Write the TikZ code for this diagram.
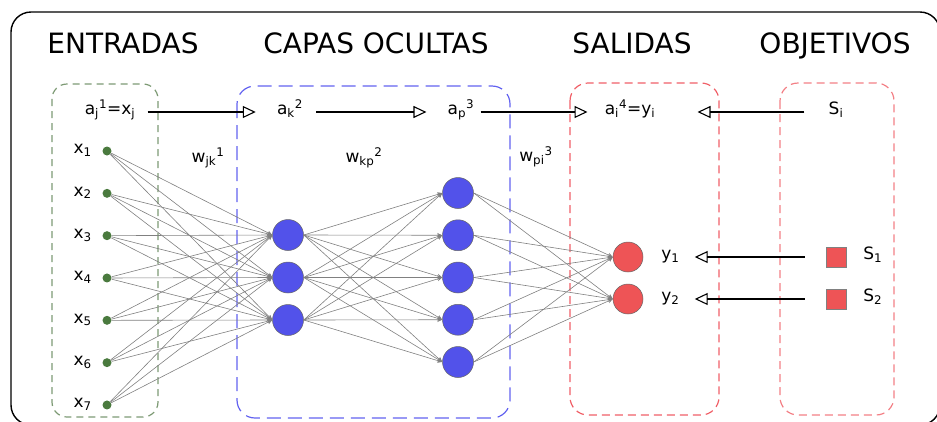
\documentclass[tikz,border=0pt]{standalone}
\usepackage{fontspec}
\setmainfont{DejaVu Sans}
\usepackage{tikz}
\usetikzlibrary{arrows.meta}
\usetikzlibrary{positioning}

\definecolor{verdeo}{RGB}{74,122,62}
\definecolor{verdec}{RGB}{125,154,116}
\definecolor{azul}{RGB}{82,82,234}
\definecolor{azulc}{RGB}{98,98,240}
\definecolor{rojo}{RGB}{238,84,86}
\definecolor{rojoc}{RGB}{240,96,104}

\begin{document}
\begin{tikzpicture}[x=1pt,y=-1pt,>={Stealth[length=5pt,width=4.5pt]},semithick]
            % estilos
            \tikzstyle{every node}=[font=\fontsize{17}{20}\selectfont,inner sep=0pt]
            \tikzstyle{titulo}=[font=\fontsize{28}{32}\selectfont,anchor=base]
            \tikzstyle{etiqueta}=[anchor=mid]
            \tikzstyle{entrada}=[circle,fill=verdeo,minimum size=9pt]
            \tikzstyle{oculta}=[circle,fill=azul,draw=black!60,line width=0.5pt,minimum size=31pt]
            \tikzstyle{salida}=[circle,fill=rojo,draw=black!60,line width=0.5pt,minimum size=30pt]
            \tikzstyle{objetivo}=[rectangle,fill=rojo,draw=black!50,line width=0.5pt,minimum size=20pt]
            \tikzstyle{conexion}=[->,draw=black!50,line width=0.6pt]
            \tikzstyle{flecha}=[-{Triangle[open,length=13pt,width=12pt]},line width=1.1pt]
            \tikzstyle{caja}=[dashed,line width=1.2pt]

            % marco
            \useasboundingbox (0,0) rectangle (937,421);
            \clip (0,0) rectangle (937,421);
            \draw[line width=1.4pt,rounded corners=20pt] (11,12) rectangle (940,425);

            % cajas de cada capa
            \draw[caja,verdec,rounded corners=15pt,dash pattern=on 7pt off 5pt] (52,84) rectangle (158,417);
            \draw[caja,azulc,rounded corners=18pt,dash pattern=on 14pt off 7pt] (237,86) rectangle (510,418);
            \draw[caja,rojoc,rounded corners=18pt,dash pattern=on 8pt off 5pt] (570,83) rectangle (719,415);
            \draw[caja,rojoc!80,rounded corners=18pt,dash pattern=on 8pt off 5pt] (780,83) rectangle (894,415);

            % titulos
            \node[titulo] (tEnt) at (123,53) {ENTRADAS};
            \node[titulo] (tOcu) at (376,53) {CAPAS OCULTAS};
            \node[titulo] (tSal) at (632,53) {SALIDAS};
            \node[titulo] (tObj) at (835,53) {OBJETIVOS};

            % fila superior
            \node[etiqueta] (a1) at (110,112) {a\textsubscript{j}\textsuperscript{1}=x\textsubscript{j}};
            \node[etiqueta] (a2) at (290,112) {a\textsubscript{k}\textsuperscript{2}};
            \node[etiqueta] (a3) at (461,112) {a\textsubscript{p}\textsuperscript{3}};
            \node[etiqueta] (a4) at (630,112) {a\textsubscript{i}\textsuperscript{4}=y\textsubscript{i}};
            \node[etiqueta] (Si) at (836,112) {S\textsubscript{i}};

            % pesos
            \node[etiqueta] (w1) at (208,160) {w\textsubscript{jk}\textsuperscript{1}};
            \node[etiqueta] (w2) at (364,160) {w\textsubscript{kp}\textsuperscript{2}};
            \node[etiqueta] (w3) at (536,159) {w\textsubscript{pi}\textsuperscript{3}};

            % entradas
            \foreach \i in {1,...,7} {
                \node[entrada] (x\i) at (107,{151+42.33*(\i-1)}) {};
                \node[etiqueta,anchor=mid east] (lx\i) at ([xshift=-15pt]x\i.center) {x\textsubscript{\i}};
            }

            % capas ocultas
            \node[oculta] (h1) at (288,235) {};
            \node[oculta] (h2) at (288,277.5) {};
            \node[oculta] (h3) at (288,320) {};
            \foreach \p in {1,...,5}
                \node[oculta] (p\p) at (458,{193+42.25*(\p-1)}) {};

            % salidas y objetivos
            \node[salida] (y1) at (628,257) {};
            \node[salida] (y2) at (628,299) {};
            \node[etiqueta,right=33pt of y1.center,anchor=mid west] (ly1) {y\textsubscript{1}};
            \node[etiqueta,right=33pt of y2.center,anchor=mid west] (ly2) {y\textsubscript{2}};
            \node[objetivo] (s1) at (836,257) {};
            \node[objetivo] (s2) at (836,299) {};
            \node[etiqueta,right=27pt of s1.center,anchor=mid west] (ls1) {S\textsubscript{1}};
            \node[etiqueta,right=27pt of s2.center,anchor=mid west] (ls2) {S\textsubscript{2}};

            % conexiones
            \foreach \i in {1,...,7}
                \foreach \k in {1,2,3}
                    \draw[conexion] (x\i) -- (h\k.west);
            \foreach \k in {1,2,3}
                \foreach \p in {1,...,5}
                    \draw[conexion] (h\k.east) -- (p\p.west);
            \foreach \p in {1,...,5}
                \foreach \s in {1,2}
                    \draw[conexion] (p\p.east) -- (y\s.west);

            % flechas
            \path
            (a1.mid east) edge[flecha,shorten <=12pt,shorten >=21pt] (a2.mid west)
            (a2.mid east) edge[flecha,shorten <=13pt,shorten >=21pt] (a3.mid west)
            (a3.mid east) edge[flecha,shorten <=6pt,shorten >=17pt] (a4.mid west)
            (Si.mid west) edge[flecha,shorten <=24pt,shorten >=42pt] (a4.mid east)
            (s1.west) edge[flecha,shorten <=21pt,shorten >=15pt] (ly1.mid east)
            (s2.west) edge[flecha,shorten <=21pt,shorten >=15pt] (ly2.mid east);
        \end{tikzpicture}
\end{document}
